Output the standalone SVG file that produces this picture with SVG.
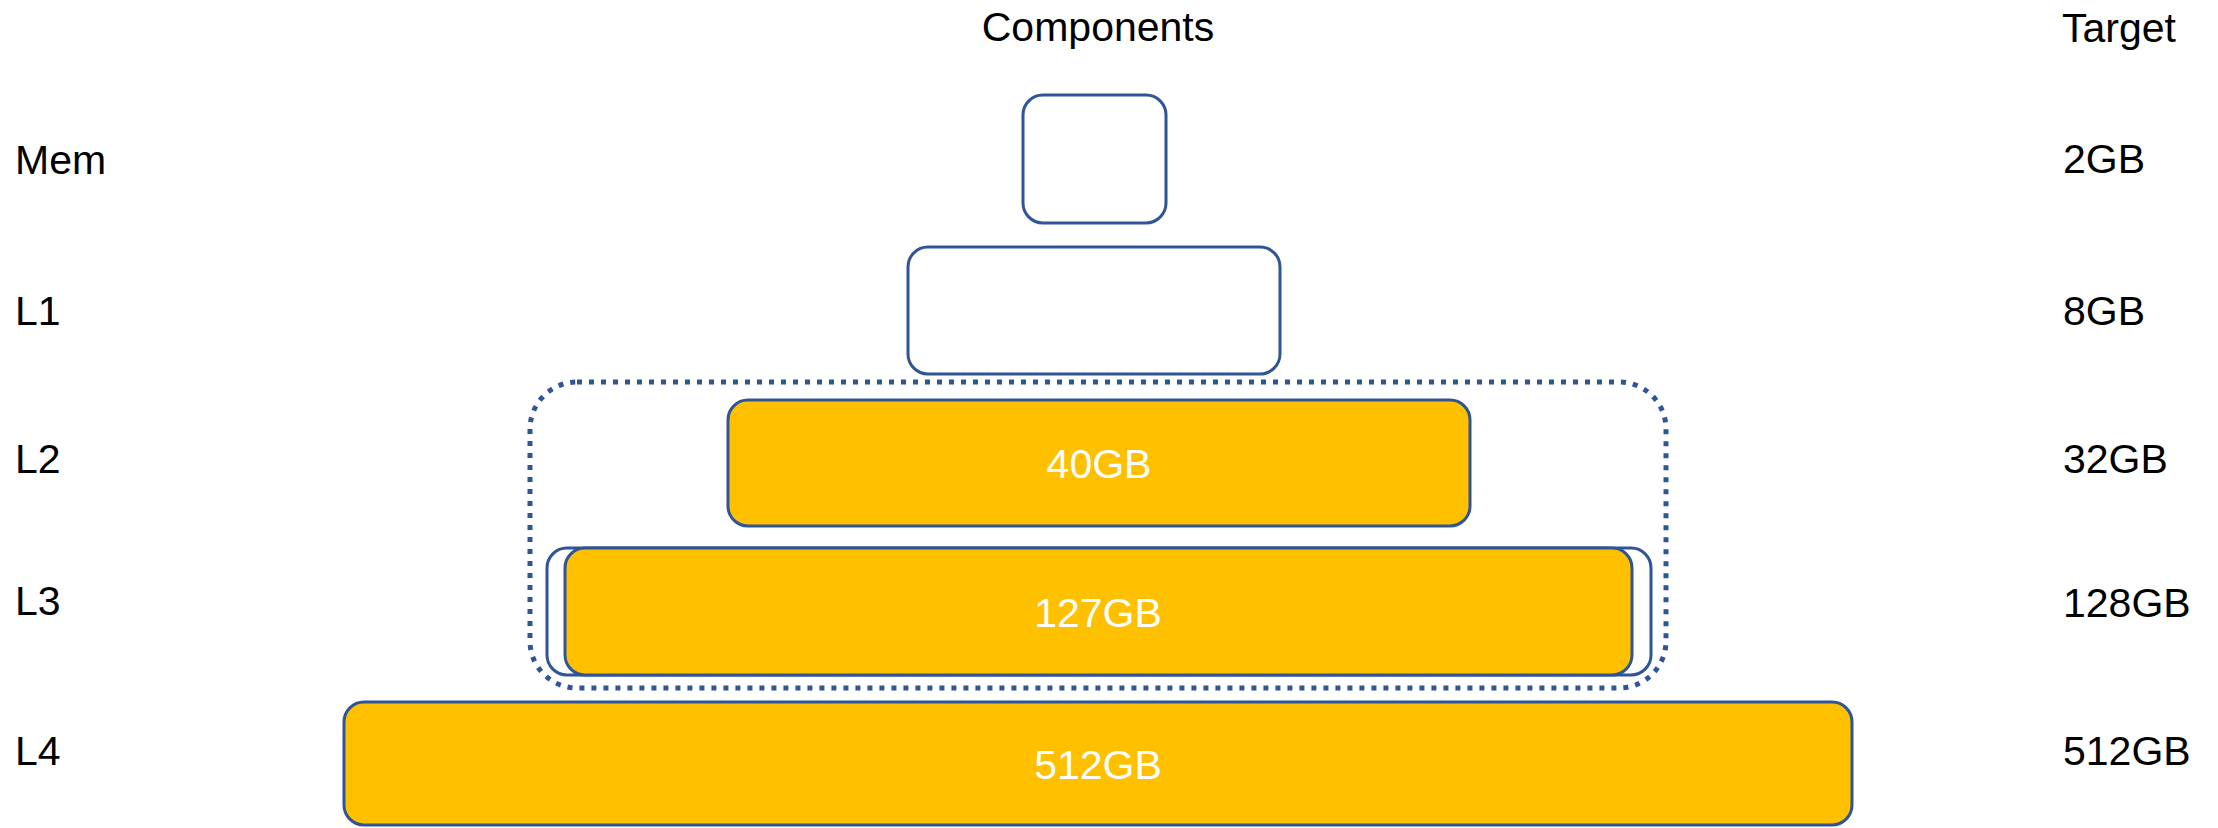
<svg xmlns="http://www.w3.org/2000/svg" width="2218" height="828" viewBox="0 0 2218 828">
<style>
.t{font-family:"Liberation Sans",Arial,sans-serif;font-size:41px;fill:#000}
.w{font-family:"Liberation Sans",Arial,sans-serif;font-size:41px;fill:#fff;text-anchor:middle}
.b{fill:#fff;stroke:#2F5597;stroke-width:3}
.y{fill:#FFC000;stroke:#2F5597;stroke-width:3}
.d{fill:none;stroke:#2F5597;stroke-width:5;stroke-dasharray:5 7}
</style>
<rect width="2218" height="828" fill="#fff"/>
<g id="labels">
<text class="t" x="1098" y="41" text-anchor="middle">Components</text>
<text class="t" x="2062" y="42">Target</text>
<text class="t" x="15" y="174">Mem</text>
<text class="t" x="15" y="325">L1</text>
<text class="t" x="15" y="473">L2</text>
<text class="t" x="15" y="615">L3</text>
<text class="t" x="15" y="765">L4</text>
<text class="t" x="2063" y="173">2GB</text>
<text class="t" x="2063" y="325">8GB</text>
<text class="t" x="2063" y="473">32GB</text>
<text class="t" x="2063" y="617">128GB</text>
<text class="t" x="2063" y="765">512GB</text>
</g>
<g id="group-l2l3"><rect class="d" x="530" y="382" width="1136" height="306" rx="47"/></g>
<g id="mem"><rect class="b" x="1023" y="95" width="143" height="128" rx="20"/></g>
<g id="l1"><rect class="b" x="908" y="247" width="372" height="127" rx="20"/></g>
<g id="l2"><rect class="y" x="728" y="400" width="742" height="126" rx="20"/><text class="w" x="1099" y="478">40GB</text></g>
<g id="l3"><rect class="b" x="547" y="548" width="1104" height="127" rx="20"/><rect class="y" x="565" y="548" width="1067" height="127" rx="20"/><text class="w" x="1098" y="627">127GB</text></g>
<g id="l4"><rect class="y" x="344" y="702" width="1508" height="123" rx="20"/><text class="w" x="1098" y="779">512GB</text></g>
<g id="connectors"></g>
</svg>
